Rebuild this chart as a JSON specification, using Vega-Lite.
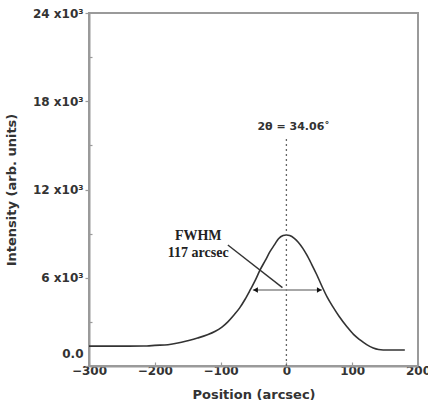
{
  "$schema": "https://vega.github.io/schema/vega-lite/v6.json",
  "autosize": {"type": "none"},
  "padding": {"left": 89, "top": 13, "right": 10, "bottom": 34},
  "width": 329,
  "height": 353,
  "background": "white",
  "config": {
    "view": {"stroke": "#9a9a9a", "strokeWidth": 2},
    "axis": {
      "domainColor": "#9a9a9a", "domainWidth": 2, "tickColor": "#9a9a9a", "tickWidth": 1.2,
      "labelFont": "DejaVu Sans", "labelFontWeight": "bold", "labelFontSize": 12, "labelColor": "#333333",
      "titleFont": "DejaVu Sans", "titleFontWeight": "bold", "titleFontSize": 13, "titleColor": "#333333",
      "grid": false
    }
  },
  "layer": [
    {
      "data": {"values": [
        {"x": -300, "y": 1350}, {"x": -280, "y": 1350}, {"x": -260, "y": 1350}, {"x": -240, "y": 1350},
        {"x": -212, "y": 1360}, {"x": -200, "y": 1400}, {"x": -180, "y": 1450}, {"x": -165, "y": 1560},
        {"x": -150, "y": 1720}, {"x": -135, "y": 1900}, {"x": -120, "y": 2120}, {"x": -108, "y": 2360},
        {"x": -98, "y": 2640}, {"x": -89, "y": 3000}, {"x": -80, "y": 3450}, {"x": -71, "y": 3950},
        {"x": -63, "y": 4520}, {"x": -55, "y": 5170}, {"x": -47, "y": 5850}, {"x": -40, "y": 6530},
        {"x": -32, "y": 7180}, {"x": -25, "y": 7770}, {"x": -18, "y": 8250}, {"x": -12, "y": 8650},
        {"x": -5, "y": 8870}, {"x": 0, "y": 8910}, {"x": 5, "y": 8870}, {"x": 12, "y": 8680},
        {"x": 18, "y": 8420}, {"x": 25, "y": 8000}, {"x": 31, "y": 7550}, {"x": 38, "y": 6950},
        {"x": 46, "y": 6220}, {"x": 54, "y": 5420}, {"x": 62, "y": 4680}, {"x": 71, "y": 4000},
        {"x": 80, "y": 3380}, {"x": 92, "y": 2670}, {"x": 102, "y": 2150}, {"x": 112, "y": 1770},
        {"x": 122, "y": 1450}, {"x": 132, "y": 1220}, {"x": 140, "y": 1120}, {"x": 147, "y": 1090},
        {"x": 165, "y": 1090}, {"x": 180, "y": 1090}
      ]},
      "mark": {"type": "line", "color": "#333333", "strokeWidth": 1.6, "interpolate": "monotone"},
      "encoding": {
        "x": {"field": "x", "type": "quantitative",
          "scale": {"domain": [-300, 200], "nice": false},
          "axis": {"title": "Position (arcsec)",
            "values": [-300, -250, -200, -150, -100, -50, 0, 50, 100, 150, 200],
            "labelExpr": "datum.value % 100 == 0 ? datum.label : ''",
            "tickSize": {"condition": {"test": "datum.value % 100 != 0", "value": -3}, "value": -4},
            "labelPadding": 3, "titlePadding": 12, "labelFlush": false}},
        "y": {"field": "y", "type": "quantitative",
          "scale": {"domain": [0, 24000], "nice": false},
          "axis": {"title": "Intensity  (arb. units)",
            "values": [0, 3000, 6000, 9000, 12000, 15000, 18000, 21000, 24000],
            "labelExpr": "datum.value == 0 ? '0.0' : (datum.value % 6000 == 0 ? (datum.value/1000) + ' x10³' : '')",
            "tickSize": {"condition": {"test": "datum.value % 6000 != 0", "value": -3}, "value": 4},
            "labelOffset": {"condition": {"test": "datum.value == 0", "value": -13}, "value": 0},
            "labelPadding": 2, "titlePadding": 14}}
      }
    },
    {
      "data": {"values": [{"x": 0, "y": 0, "y2": 15500}]},
      "mark": {"type": "rule", "color": "#666666", "strokeDash": [2, 3], "strokeWidth": 1.3},
      "encoding": {
        "x": {"field": "x", "type": "quantitative"},
        "y": {"field": "y", "type": "quantitative"},
        "y2": {"field": "y2"}
      }
    },
    {
      "data": {"values": [{"x": -51, "x2": 54, "y": 5170}]},
      "mark": {"type": "rule", "color": "#8a8a8a", "strokeWidth": 1.6},
      "encoding": {
        "x": {"field": "x", "type": "quantitative"},
        "x2": {"field": "x2"},
        "y": {"field": "y", "type": "quantitative"}
      }
    },
    {
      "data": {"values": [{"x": -47, "y": 5170, "shape": "triangle-left"}, {"x": 50, "y": 5170, "shape": "triangle-right"}]},
      "mark": {"type": "point", "filled": true, "color": "#111111", "size": 30, "opacity": 1},
      "encoding": {
        "x": {"field": "x", "type": "quantitative"},
        "y": {"field": "y", "type": "quantitative"},
        "shape": {"field": "shape", "type": "nominal", "scale": null}
      }
    },
    {
      "data": {"values": [{"x": -89, "y": 8226, "x2": -6, "y2": 5330}]},
      "mark": {"type": "rule", "color": "#333333", "strokeWidth": 1.4},
      "encoding": {
        "x": {"field": "x", "type": "quantitative"},
        "y": {"field": "y", "type": "quantitative"},
        "x2": {"field": "x2"},
        "y2": {"field": "y2"}
      }
    },
    {
      "data": {"values": [
        {"x": -134, "y": 8840, "label": "FWHM"},
        {"x": -134, "y": 7680, "label": "117 arcsec"}
      ]},
      "mark": {"type": "text", "font": "Liberation Serif", "fontWeight": "bold", "fontSize": 14, "color": "#222222", "baseline": "middle", "align": "center"},
      "encoding": {
        "x": {"field": "x", "type": "quantitative"},
        "y": {"field": "y", "type": "quantitative"},
        "text": {"field": "label"}
      }
    },
    {
      "data": {"values": [{"x": 11, "y": 16250, "label": "2θ = 34.06˚"}]},
      "mark": {"type": "text", "font": "DejaVu Sans", "fontWeight": "bold", "fontSize": 11, "color": "#333333", "baseline": "middle", "align": "center"},
      "encoding": {
        "x": {"field": "x", "type": "quantitative"},
        "y": {"field": "y", "type": "quantitative"},
        "text": {"field": "label"}
      }
    }
  ]
}
